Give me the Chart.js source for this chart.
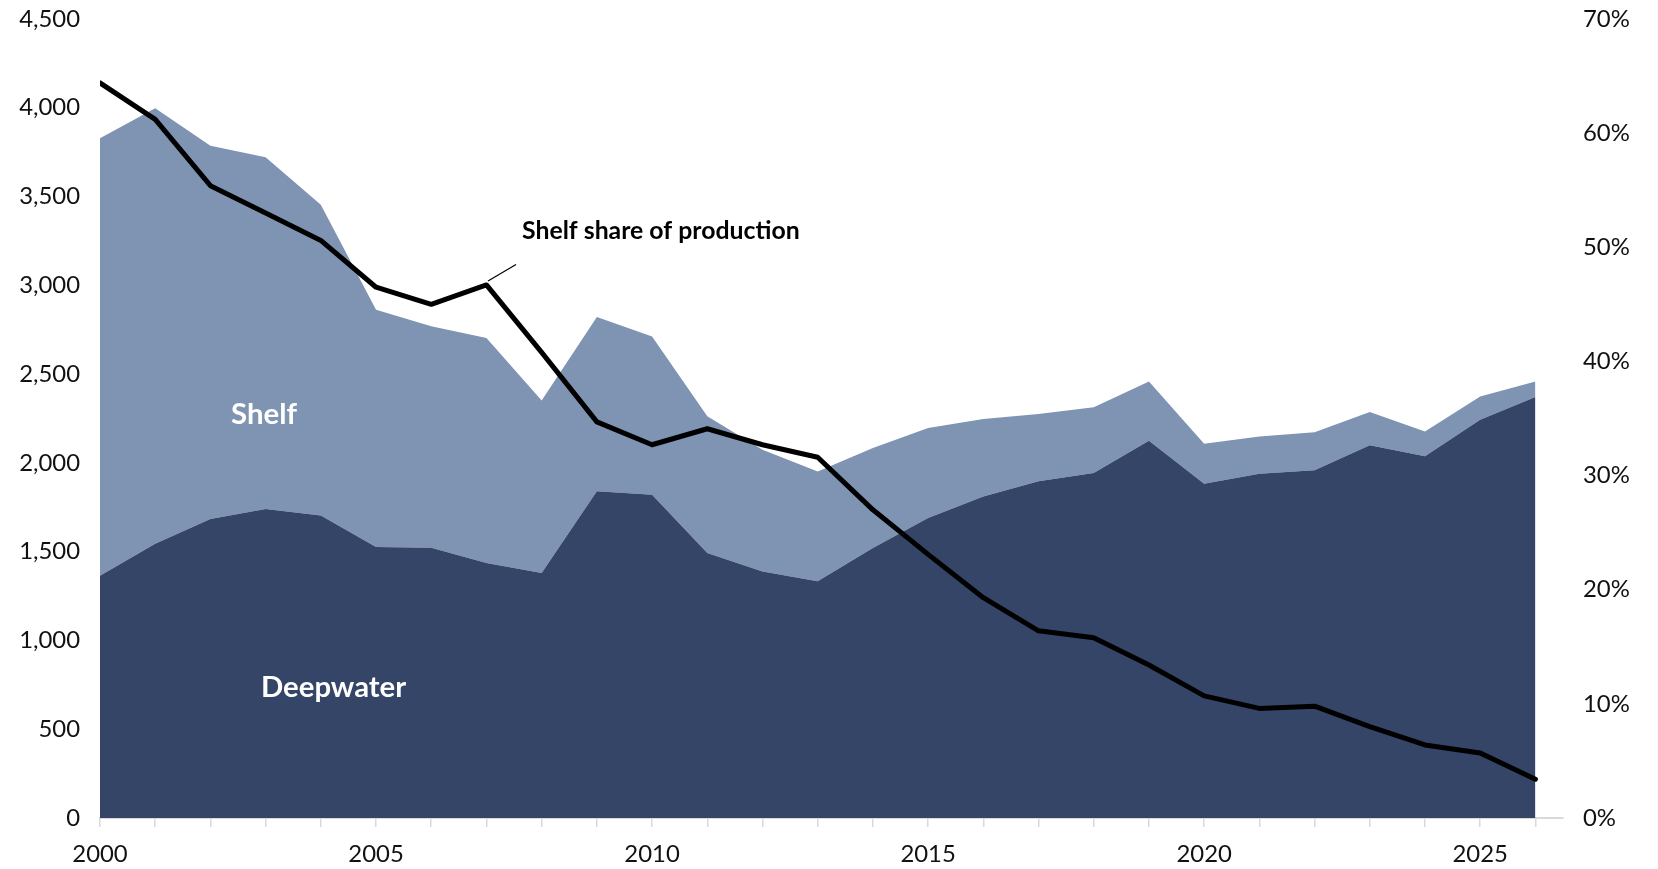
<!DOCTYPE html>
<html><head><meta charset="utf-8">
<script src="https://cdn.jsdelivr.net/npm/chart.js@4/dist/chart.umd.min.js"></script>
<style>html,body{margin:0;padding:0;background:#fff;overflow:hidden}#wrap{width:1658px;height:869px;position:relative}</style>
</head><body><div id="wrap"><canvas id="c" width="1658" height="869"></canvas></div>
<script>
const years = [2000,2001,2002,2003,2004,2005,2006,2007,2008,2009,2010,2011,2012,2013,2014,2015,2016,2017,2018,2019,2020,2021,2022,2023,2024,2025,2026];
const deepwater = [1365,1545,1684,1740,1703,1526,1522,1436,1380,1840,1821,1493,1389,1333,1521,1690,1811,1896,1943,2125,1883,1939,1958,2099,2037,2243,2371];
const shelf = [2464,2453,2102,1982,1751,1337,1247,1267,972,981,891,769,685,619,563,506,436,379,370,334,225,210,214,188,140,131,88];
const shelfShare = [64.4,61.2,55.4,53.0,50.6,46.5,45.0,46.7,40.8,34.7,32.7,34.1,32.7,31.6,27.0,23.1,19.3,16.4,15.8,13.4,10.7,9.6,9.8,8.0,6.4,5.7,3.4];
const leftTicks = [0,500,1000,1500,2000,2500,3000,3500,4000,4500];
const rightTicks = [0,10,20,30,40,50,60,70];
const xLabelYears = [2000,2005,2010,2015,2020,2025];

const FONT = 'Lato';
function fitSize(text, width, weight) {
  const cx = document.createElement('canvas').getContext('2d');
  cx.font = weight + ' 100px ' + FONT;
  return 100 * width / cx.measureText(text).width;
}

function build() {
  const tickSize = Math.round(fitSize('4,500', 61, 'normal') * 10) / 10;
  const labelPlugin = {
    id: 'labels',
    afterDraw(chart) {
      const ctx = chart.ctx;
      ctx.save();
      ctx.textBaseline = 'alphabetic';
      ctx.textAlign = 'left';
      const items = [
        {t: 'Shelf', x: 231, y: 424, w: 66, c: '#ffffff'},
        {t: 'Deepwater', x: 261, y: 697, w: 145, c: '#ffffff'},
        {t: 'Shelf share of production', x: 522, y: 239, w: 278, c: '#000000'}
      ];
      items.forEach(it => {
        ctx.font = 'bold ' + fitSize(it.t, it.w, 'bold').toFixed(1) + 'px ' + FONT;
        ctx.fillStyle = it.c;
        ctx.fillText(it.t, it.x, it.y);
      });
      ctx.strokeStyle = '#000';
      ctx.lineWidth = 1.2;
      ctx.beginPath();
      ctx.moveTo(488, 281);
      ctx.lineTo(516, 264.5);
      ctx.stroke();
      ctx.restore();
    }
  };

  const noPad = s => { s.paddingTop = 0; s.paddingBottom = 0; };

  new Chart(document.getElementById('c'), {
    type: 'line',
    data: {
      datasets: [
        {
          label: 'Shelf share of production',
          data: years.map((y, i) => ({x: y, y: shelfShare[i]})),
          yAxisID: 'y1',
          borderColor: '#000000',
          borderWidth: 5,
          borderCapStyle: 'round',
          borderJoinStyle: 'round',
          pointRadius: 0,
          fill: false,
          tension: 0
        },
        {
          label: 'Deepwater',
          data: years.map((y, i) => ({x: y, y: deepwater[i]})),
          yAxisID: 'y',
          backgroundColor: '#344568',
          borderWidth: 0,
          borderColor: 'rgba(0,0,0,0)',
          pointRadius: 0,
          fill: 'origin',
          tension: 0
        },
        {
          label: 'Shelf',
          data: years.map((y, i) => ({x: y, y: shelf[i]})),
          yAxisID: 'y',
          backgroundColor: '#7F93B3',
          borderWidth: 0,
          borderColor: 'rgba(0,0,0,0)',
          pointRadius: 0,
          fill: '-1',
          tension: 0
        }
      ]
    },
    options: {
      responsive: false,
      animation: false,
      devicePixelRatio: 1,
      layout: {padding: {top: 19, left: 0, right: 0, bottom: 0}},
      plugins: {legend: {display: false}, tooltip: {enabled: false}},
      scales: {
        x: {
          type: 'linear',
          min: 2000,
          max: 2026.5,
          afterBuildTicks: s => { s.ticks = years.map(v => ({value: v})); },
          afterFit: s => { s.height = 51; s.paddingLeft = 0; s.paddingRight = 0; },
          ticks: {
            autoSkip: false, maxRotation: 0, padding: 13,
            font: {family: FONT, size: tickSize}, color: '#111111',
            callback: v => xLabelYears.includes(v) ? String(v) : ''
          },
          grid: {display: true, drawOnChartArea: false, drawTicks: true, tickLength: 9, color: '#D9D9D9', lineWidth: 1.5},
          border: {display: true, color: '#D9D9D9', width: 2}
        },
        y: {
          position: 'left',
          stacked: true,
          min: 0, max: 4500,
          afterBuildTicks: s => { s.ticks = leftTicks.map(v => ({value: v})); },
          afterFit: s => { s.width = 100; noPad(s); },
          ticks: {
            padding: 20, font: {family: FONT, size: tickSize}, color: '#111111',
            callback: v => v.toLocaleString('en-US')
          },
          grid: {display: false, drawTicks: false},
          border: {display: false}
        },
        y1: {
          position: 'right',
          min: 0, max: 70,
          afterBuildTicks: s => { s.ticks = rightTicks.map(v => ({value: v})); },
          afterFit: s => { s.width = 95; noPad(s); },
          ticks: {
            padding: 20, font: {family: FONT, size: tickSize}, color: '#111111',
            callback: v => v + '%'
          },
          grid: {display: false, drawTicks: false},
          border: {display: false}
        }
      }
    },
    plugins: [labelPlugin]
  });
}

Promise.all([document.fonts.load('16px Lato'), document.fonts.load('bold 16px Lato')]).catch(() => {}).then(build);
</script>
</body></html>
